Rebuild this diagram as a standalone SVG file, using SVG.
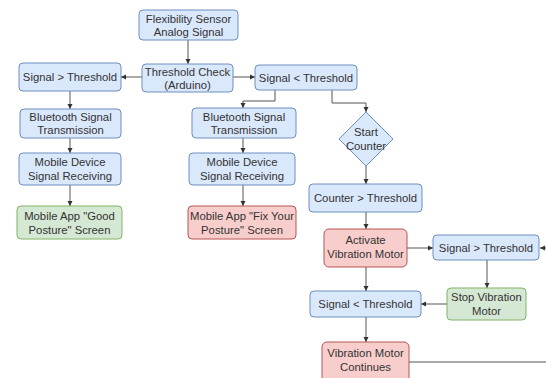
<svg xmlns="http://www.w3.org/2000/svg" width="546" height="378" viewBox="0 0 546 378">
<defs>
<marker id="ah" markerWidth="6" markerHeight="6" refX="5" refY="3" orient="auto" markerUnits="userSpaceOnUse">
<path d="M0,0.5 L5,3 L0,5.5 Z" fill="#333"/>
</marker>
<style>
.b{fill:#dae8fc;stroke:#6c8ebf;stroke-width:1}
.r{fill:#f8cecc;stroke:#b85450;stroke-width:1}
.g{fill:#d5e8d4;stroke:#82b366;stroke-width:1}
text{font-family:"Liberation Sans",Arial,sans-serif;font-size:11.3px;fill:#333;text-anchor:middle}
.c{fill:none;stroke:#555;stroke-width:1;marker-end:url(#ah)}
.n{fill:none;stroke:#555;stroke-width:1}
</style>
</defs>
<rect width="546" height="378" fill="#fff"/>
<g id="connectors">
<path class="c" d="M188,40 V64"/>
<path class="c" d="M142,77 H121"/>
<path class="c" d="M233,77 H255"/>
<path class="c" d="M70,91 V109"/>
<path class="c" d="M275,90 V101 H243 V108"/>
<path class="c" d="M332,90 V103 H366 V112"/>
<path class="c" d="M70,138 V153"/>
<path class="c" d="M243,138 V153"/>
<path class="c" d="M70,185 V206"/>
<path class="c" d="M243,185 V206"/>
<path class="c" d="M366,166 V184"/>
<path class="c" d="M366,212 V229"/>
<path class="c" d="M407,248 H433"/>
<path class="c" d="M546,248 H540"/>
<path class="c" d="M487,260 V288"/>
<path class="c" d="M447,304 H421"/>
<path class="c" d="M366,267 V291"/>
<path class="c" d="M366,317 V342"/>
<path class="n" d="M409,362 H546"/>
</g>
<g id="sensor"><rect class="b" x="139" y="10" width="99" height="30" rx="4"/><text x="188.5" y="23">Flexibility Sensor</text><text x="188.5" y="36">Analog Signal</text></g>
<g id="check"><rect class="b" x="142" y="64" width="91" height="28" rx="4"/><text x="187.5" y="76">Threshold Check</text><text x="187.5" y="89">(Arduino)</text></g>
<g id="gtL"><rect class="b" x="19" y="63" width="102" height="28" rx="4"/><text x="70" y="81">Signal &gt; Threshold</text></g>
<g id="ltM"><rect class="b" x="255" y="65" width="102" height="25" rx="4"/><text x="306" y="81.5">Signal &lt; Threshold</text></g>
<g id="btL"><rect class="b" x="20" y="109" width="101" height="29" rx="4"/><text x="70.5" y="121">Bluetooth Signal</text><text x="70.5" y="134">Transmission</text></g>
<g id="btM"><rect class="b" x="192" y="108" width="104" height="30" rx="4"/><text x="244" y="120.5">Bluetooth Signal</text><text x="244" y="133.5">Transmission</text></g>
<g id="mdL"><rect class="b" x="19" y="153" width="102" height="32" rx="4"/><text x="70" y="166">Mobile Device</text><text x="70" y="180">Signal Receiving</text></g>
<g id="mdM"><rect class="b" x="189" y="153" width="106" height="32" rx="4"/><text x="242" y="166">Mobile Device</text><text x="242" y="180">Signal Receiving</text></g>
<g id="good"><rect class="g" x="17" y="206" width="105" height="33" rx="4"/><text x="69.5" y="219.5">Mobile App "Good</text><text x="69.5" y="233.5">Posture" Screen</text></g>
<g id="fix"><rect class="r" x="188" y="206" width="108" height="33" rx="4"/><text x="242" y="219.5">Mobile App "Fix Your</text><text x="242" y="233.5">Posture" Screen</text></g>
<g id="start"><path class="b" d="M366,112 L393,139 L366,166 L339,139 Z" stroke-linejoin="round"/><text x="366" y="136">Start</text><text x="366" y="150">Counter</text></g>
<g id="counter"><rect class="b" x="309" y="184" width="113" height="28" rx="4"/><text x="365.5" y="202">Counter &gt; Threshold</text></g>
<g id="activate"><rect class="r" x="324" y="229" width="83" height="38" rx="5"/><text x="365.5" y="244">Activate</text><text x="365.5" y="258">Vibration Motor</text></g>
<g id="gtR"><rect class="b" x="433" y="235" width="106" height="25" rx="4"/><text x="486" y="251.5">Signal &gt; Threshold</text></g>
<g id="stop"><rect class="g" x="447" y="288" width="79" height="32" rx="4"/><text x="486.5" y="301">Stop Vibration</text><text x="486.5" y="315">Motor</text></g>
<g id="ltB"><rect class="b" x="310" y="291" width="111" height="26" rx="4"/><text x="365.5" y="308">Signal &lt; Threshold</text></g>
<g id="continues"><rect class="r" x="322" y="342" width="87" height="40" rx="5"/><text x="365.5" y="357">Vibration Motor</text><text x="365.5" y="371">Continues</text></g>
</svg>
